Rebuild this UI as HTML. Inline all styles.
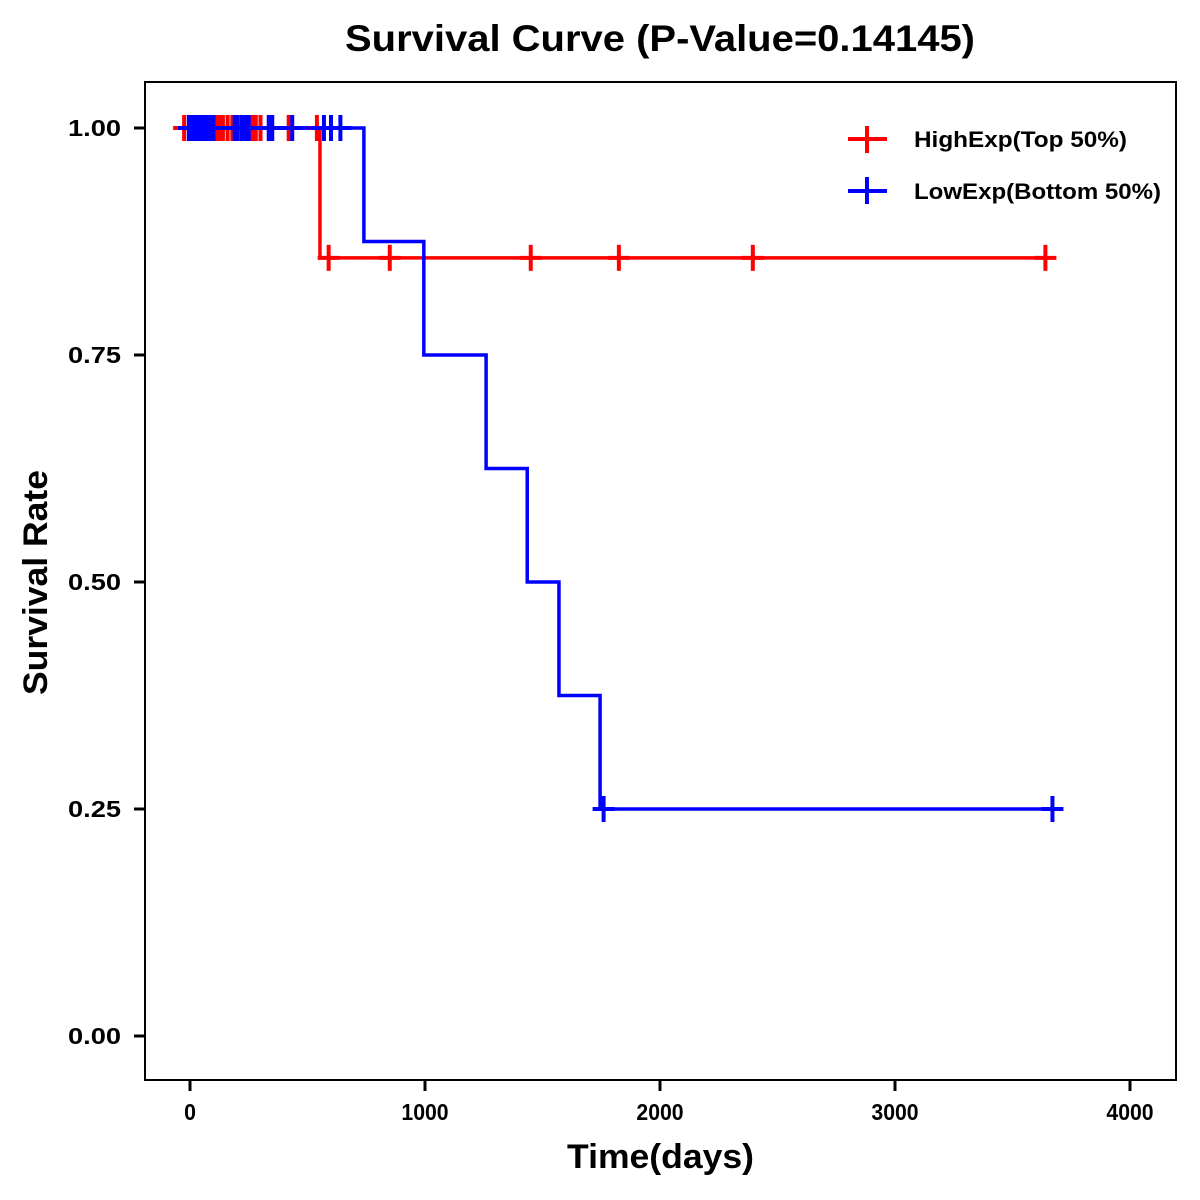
<!DOCTYPE html>
<html><head><meta charset="utf-8"><style>
html,body{margin:0;padding:0;background:#fff;}
svg{display:block;font-family:"Liberation Sans",Arial,sans-serif;}
</style></head><body>
<svg id="chart" width="1200" height="1200" viewBox="0 0 1200 1200">
<rect x="0" y="0" width="1200" height="1200" fill="#fff"/>
<text x="345" y="51" font-size="37" font-weight="bold" textLength="630" lengthAdjust="spacingAndGlyphs">Survival Curve (P-Value=0.14145)</text>
<rect x="145" y="82" width="1031" height="998" fill="none" stroke="#000" stroke-width="2"/>
<g id="axes"></g>
<g id="series"></g>
<text x="567" y="1168" font-size="34" font-weight="bold" textLength="187" lengthAdjust="spacingAndGlyphs">Time(days)</text>
<text transform="translate(47,695) rotate(-90)" font-size="34" font-weight="bold" textLength="225" lengthAdjust="spacingAndGlyphs">Survival Rate</text>
<g>
 <g>
  <line x1="848" y1="139" x2="887" y2="139" stroke="#f00" stroke-width="4"/>
  <line x1="867" y1="126" x2="867" y2="153" stroke="#f00" stroke-width="4"/>
  <text x="914" y="147" font-size="22" font-weight="bold" textLength="213" lengthAdjust="spacingAndGlyphs">HighExp(Top 50%)</text>
 </g>
 <g>
  <line x1="848" y1="191" x2="887" y2="191" stroke="#00f" stroke-width="4"/>
  <line x1="867" y1="177" x2="867" y2="204" stroke="#00f" stroke-width="4"/>
  <text x="914" y="199" font-size="22" font-weight="bold" textLength="247" lengthAdjust="spacingAndGlyphs">LowExp(Bottom 50%)</text>
 </g>
</g>
</svg>
<script>
const xTicks=[0,1000,2000,3000,4000];
const yTicks=[0,0.25,0.5,0.75,1.0];
const yTickLabels=["0.00","0.25","0.50","0.75","1.00"];
const highStepTimes=[0,553,3681];
const highStepSurv=[1.0,0.857,0.857];
const highCensorTimes=[-25,10,20,30,45,55,65,90,110,125,140,160,180,200,210,230,250,260,270,280,300,420,540,590,850,1450,1825,2395,3640];
const highCensorSurv=[1,1,1,1,1,1,1,1,1,1,1,1,1,1,1,1,1,1,1,1,1,1,1,0.857,0.857,0.857,0.857,0.857,0.857];
const lowStepTimes=[0,740,995,1260,1435,1570,1745,3715];
const lowStepSurv=[1.0,0.875,0.75,0.625,0.5,0.375,0.25,0.25];
const lowCensorTimes=[-5,5,15,25,35,50,60,75,85,100,190,200,220,235,250,335,350,435,570,600,640,1760,3670];
const lowCensorSurv=[1,1,1,1,1,1,1,1,1,1,1,1,1,1,1,1,1,1,1,1,1,0.25,0.25];
const X=t=>190+t*0.235;
const Y=s=>1036-s*908;
const NS="http://www.w3.org/2000/svg";
function mk(tag,attrs,parent){const e=document.createElementNS(NS,tag);for(const k in attrs)e.setAttribute(k,attrs[k]);parent.appendChild(e);return e;}
const axes=document.getElementById('axes');
xTicks.forEach(t=>{
 const l=mk('line',{x1:X(t),y1:1080,x2:X(t),y2:1091,stroke:'#000','stroke-width':3},axes);
 
 
 const s=String(t);
 const tx=mk('text',{x:X(t),y:1120,'text-anchor':'middle','font-size':23,'font-weight':'bold',textLength:s.length*11.8,lengthAdjust:'spacingAndGlyphs'},axes);
 tx.textContent=s;
 
 
});
yTicks.forEach((s,i)=>{
 const l=mk('line',{x1:134,y1:Y(s),x2:145,y2:Y(s),stroke:'#000','stroke-width':3},axes);
 
 
 const tx=mk('text',{x:121,y:Y(s)+8,'text-anchor':'end','font-size':23,'font-weight':'bold',textLength:53,lengthAdjust:'spacingAndGlyphs'},axes);
 tx.textContent=yTickLabels[i];
 
 
});
const ser=document.getElementById('series');
function drawSeries(times,surv,ct,cs,color,name){
 let d='M'+X(-50)+','+Y(surv[0]);
 for(let i=0;i<times.length;i++){
  if(i>0) d+=' L'+X(times[i])+','+Y(surv[i-1]);
  d+=' L'+X(times[i])+','+Y(surv[i]);
 }
 const p=mk('path',{d:d,fill:'none',stroke:color,'stroke-width':3.5},ser);
 
 
 ct.forEach((t,i)=>{
  const g=mk('g',{},ser);
  
  
  mk('line',{x1:X(t),y1:Y(cs[i])-13,x2:X(t),y2:Y(cs[i])+13,stroke:color,'stroke-width':4},g);
  mk('line',{x1:X(t)-11,y1:Y(cs[i]),x2:X(t)+11,y2:Y(cs[i]),stroke:color,'stroke-width':4},g);
 });
}
drawSeries(highStepTimes,highStepSurv,highCensorTimes,highCensorSurv,'#f00','high-exp');
drawSeries(lowStepTimes,lowStepSurv,lowCensorTimes,lowCensorSurv,'#00f','low-exp');
</script>
</body></html>
